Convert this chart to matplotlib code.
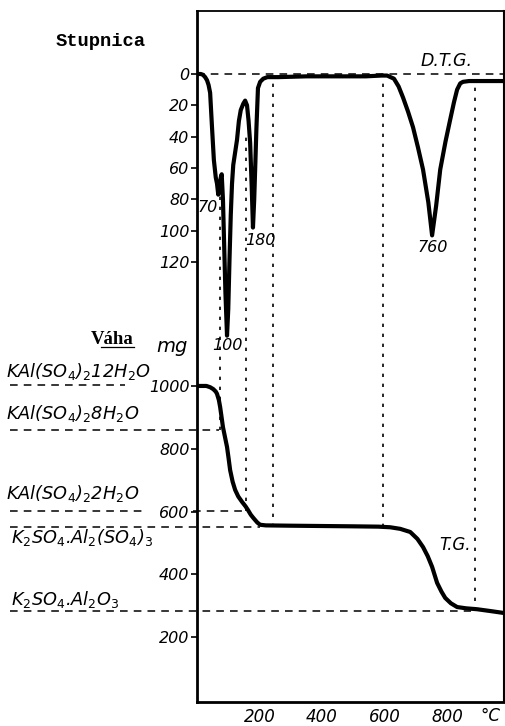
import matplotlib.pyplot as plt
from matplotlib.lines import Line2D

plt.rcParams['font.family'] = 'DejaVu Sans'
plt.rcParams['mathtext.fontset'] = 'dejavusans'
plt.rcParams['mathtext.default'] = 'it'

# DTG curve (Stupnica scale, downwards)
dtg_temp = [0, 12, 19, 26, 32, 37, 42, 48, 54, 60, 64, 68, 72, 76, 79, 83, 87, 91, 96,
            100, 104, 108, 112, 116, 122, 128, 134, 140, 148, 154, 160, 165, 170, 175,
            179, 183, 186, 190, 195, 202, 212, 225, 260, 350, 450, 540, 590, 608, 630,
            645, 659, 675, 691, 707, 723, 740, 752, 765, 778, 795, 810, 822, 832, 842,
            851, 870, 920, 982]
dtg_val = [0, 0, 0.5, 2, 4, 7, 12, 34, 55, 66, 70, 77, 72, 66, 64, 80, 110, 140, 167,
           150, 118, 90, 70, 58, 50, 42, 30, 23, 19, 17, 20, 30, 44, 72,
           98, 80, 61, 35, 9, 5, 3, 2, 2, 1.5, 1.5, 1.5, 1, 1, 3,
           8, 15, 24, 34, 47, 61, 82, 103, 84, 61, 43, 29, 18, 10, 6,
           5, 4.5, 4.5, 4.5]

# TG curve (mg)
tg_temp = [0, 30, 42, 52, 60, 64, 70, 74, 78, 83, 90, 96, 101, 106, 114, 122, 132, 144,
           155, 163, 172, 180, 186, 193, 202, 220, 300, 400, 500, 580, 618, 650, 682,
           705, 723, 738, 752, 768, 782, 794, 812, 832, 860, 896, 940, 982]
tg_mg = [1000, 1000, 996, 990, 982, 975, 955, 933, 905, 869, 835, 806, 770, 732, 695,
         669, 648, 631, 617, 605, 590, 580, 573, 565, 558, 556, 555, 554, 553, 552, 550,
         545, 535, 513, 487, 458, 424, 373, 345, 325, 308, 296, 292, 289, 283, 277]

dtg_ticks = [0, 20, 40, 60, 80, 100, 120]
tg_ticks = [200, 400, 600, 800, 1000]
x_ticks = [200, 400, 600, 800]

# compositions on the weight scale
compounds = [r'KAl(SO$_4$)$_2$12H$_2$O', r'KAl(SO$_4$)$_2$8H$_2$O',
             r'KAl(SO$_4$)$_2$2H$_2$O', r'K$_2$SO$_4$.Al$_2$(SO$_4$)$_3$',
             r'K$_2$SO$_4$.Al$_2$O$_3$']
compound_mg = [1003, 860, 602, 551, 284]
compound_end = [-230, 70, 163, 200, 875]
compound_text_y = [372, 414, 494, 538, 599]
compound_text_x = [6, 6, 6, 11, 11]

# vertical guide lines: temperature, top (mg), bottom (mg)
guide_temp = [74, 157, 243, 595, 890]
guide_top = [1620, 1793, 1981, 1981, 1968]
guide_bot = [860, 602, 551, 551, 284]

peak_labels = ['70', '100', '180', '760']
peak_temp = [35, 96, 202, 755]
peak_pos = [85, 173, 106, 111]

W, H = 506, 726
fig = plt.figure(figsize=(W / 100, H / 100), dpi=100)


def fx(x):
    return x / W


def fy(y):
    return 1 - y / H


ax = fig.add_axes([fx(197), fy(702), (504 - 197) / W, (702 - 11) / H])
ax.set_xlim(0, 982)
ax.set_ylim(-6.4, 2194)

ax2 = ax.twinx()
ax2.set_ylim(400.8, -40.2)
ax2.yaxis.tick_left()
for s in ax2.spines.values():
    s.set_visible(False)

ax.spines['left'].set_linewidth(2)
ax.spines['bottom'].set_linewidth(2)
ax.spines['top'].set_linewidth(1.3)
ax.spines['right'].set_linewidth(1.5)

ax.set_yticks(tg_ticks, labels=[str(t) for t in tg_ticks], fontstyle='italic', fontsize=11.5)
ax2.set_yticks(dtg_ticks, labels=[str(t) for t in dtg_ticks], fontstyle='italic', fontsize=11.5)
ax.set_xticks(x_ticks, labels=[str(t) for t in x_ticks], fontstyle='italic', fontsize=12)
ax.tick_params(axis='y', length=4, width=1.2, pad=1.5)
ax2.tick_params(axis='y', length=4, width=1.2, pad=1.5)
ax.tick_params(axis='x', length=0, pad=4)

# curves
ax2.plot(dtg_temp, dtg_val, color='black', lw=3, solid_joinstyle='round', zorder=5)
ax.plot(tg_temp, tg_mg, color='black', lw=3, solid_joinstyle='round', zorder=5)

# DTG zero line
ax2.axhline(0, color='black', lw=1.1, ls=(0, (5, 4)), zorder=2)

# composition lines and labels
for name, mg, end, ty, tx in zip(compounds, compound_mg, compound_end,
                                 compound_text_y, compound_text_x):
    if mg == 602:
        ax.plot([-598, -175], [mg, mg], color='black', lw=1.1, ls=(0, (5, 4)), clip_on=False)
        ax.plot([-12, end], [mg, mg], color='black', lw=1.1, ls=(0, (5, 4)), clip_on=False)
    else:
        ax.plot([-598, end], [mg, mg], color='black', lw=1.1, ls=(0, (5, 4)), clip_on=False)
    fig.text(fx(tx), fy(ty), name, fontsize=12.8, fontstyle='italic', va='center', ha='left')

# vertical guides
for t, top, bot in zip(guide_temp, guide_top, guide_bot):
    ax.plot([t, t], [bot, top], color='black', lw=1.2, ls=(0, (2, 4)), zorder=1)

for lab, t, v in zip(peak_labels, peak_temp, peak_pos):
    ax2.text(t, v, lab, fontsize=11.5, fontstyle='italic', ha='center', va='center')

ax2.text(797, -8.3, 'D.T.G.', fontsize=12.5, fontstyle='italic', ha='center', va='center')
ax.text(826, 494, 'T.G.', fontsize=12, fontstyle='italic', ha='center', va='center')

fig.text(fx(101), fy(42), 'Stupnica', family='Liberation Mono', fontweight='bold',
         fontsize=13.5, ha='center', va='center')
fig.text(fx(112), fy(339), 'Váha', family='Liberation Serif', fontweight='bold',
         fontsize=13.5, ha='center', va='center')
fig.add_artist(Line2D([fx(101), fx(134)], [fy(347), fy(347)], color='black', lw=0.9))
fig.text(fx(172), fy(347), 'mg', fontsize=14, fontstyle='italic', ha='center', va='center')
fig.text(fx(490), fy(716), '°C', fontsize=12, fontstyle='italic', ha='center', va='center')

fig.savefig('out.png', dpi=100, facecolor='white')
